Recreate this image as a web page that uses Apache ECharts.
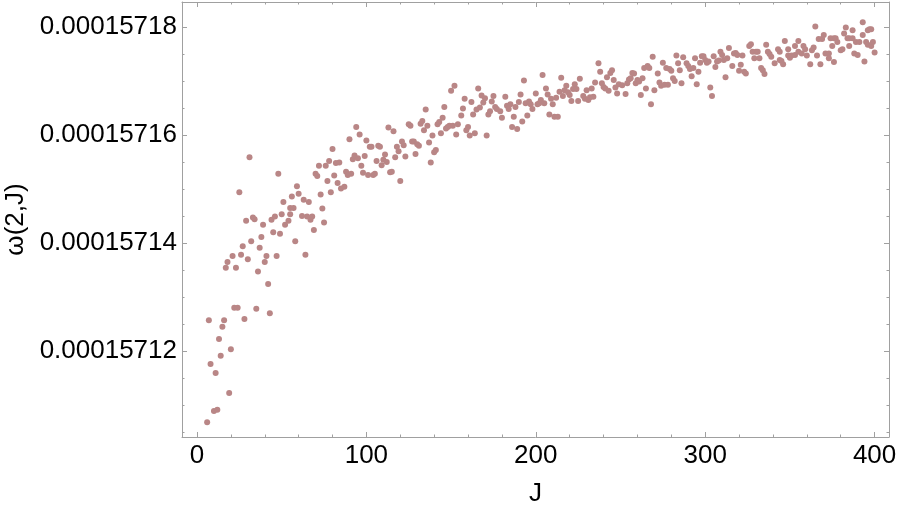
<!DOCTYPE html>
<html>
<head>
<meta charset="utf-8">
<script src="https://cdn.jsdelivr.net/npm/echarts@6/dist/echarts.min.js"></script>
<style>
  html, body { margin: 0; padding: 0; background: #fff; }
  #chart { width: 899px; height: 509px; }
</style>
</head>
<body>
<div id="chart"></div>
<script>
// J values (x) and omega(2,J).
// omegaOffset is in units of 1e-10 above 0.000157
const jValues = [
  6, 7, 8, 10, 11, 12, 13, 14, 15, 16, 17, 18, 19, 20, 21, 22, 23, 24, 25, 26, 27, 28, 29, 30, 31, 32, 33, 34, 35, 36,
  37, 38, 39, 40, 41, 42, 43, 44, 45, 46, 47, 48, 49, 50, 51, 52, 54, 55, 55, 56, 57, 58, 59, 60, 62,
  63, 64, 65, 66, 67, 68, 69, 70, 71, 72, 73, 74, 75, 76, 77, 78, 79, 80, 81, 82, 83, 84, 85, 87, 88, 89, 90, 91, 92,
  93, 94, 95, 96, 97, 98, 99, 100, 101, 102, 103, 104, 105, 106, 107, 108, 109, 110, 111, 112, 113, 114, 115, 116, 117,
  118, 119, 120, 121, 122, 123, 125, 126, 127, 128, 129, 130, 131, 132, 133, 134, 135, 136, 137, 138, 139, 140, 141,
  142, 143, 144, 145, 146, 147, 148, 149, 150, 151, 152, 153, 154, 156, 157, 158, 159, 160, 161, 162, 163, 164, 165,
  166, 167, 168, 169, 170, 171, 172, 173, 174,
  175, 176, 177, 179, 180, 182, 183, 184, 185, 186, 187, 188, 189, 190, 191, 192, 193, 194, 195, 196, 197, 198, 200,
  201, 202, 203, 204, 205, 206, 207, 208, 209, 210, 211, 212, 213, 214, 215, 216, 217, 218, 219, 220, 221, 222, 223,
  224, 225, 226, 228, 229, 230,
  231, 232, 233, 234, 235, 237, 238, 239, 240, 241, 242, 243, 244, 245, 246, 247, 248, 249, 251, 253, 254, 255, 256,
  257, 258, 259, 260, 261, 262, 263, 264, 265, 266, 267, 268, 269, 270, 272, 273, 274, 275, 276, 277, 278, 279, 280,
  281, 282, 283, 284, 285, 286, 287,
  289, 290, 291, 292, 293, 294, 295, 296, 297, 298, 299, 300, 301, 302, 303, 304, 305, 306, 307, 308, 309, 310, 311,
  312, 313, 314, 316, 317, 318, 319, 320, 321, 322, 323, 324, 326, 327, 328, 329, 330, 331, 332, 333, 334, 335, 336,
  337, 338, 339, 341, 343, 344,
  344, 345, 346, 347, 349, 349, 350, 351, 353, 353, 355, 355, 357, 358, 359, 360, 362, 363, 364, 365, 366, 367, 368,
  369, 370, 371, 373, 373, 374, 375, 376, 376, 377, 378, 380, 381, 382, 383, 384, 385, 385, 387, 387, 388, 389, 390,
  391, 393, 393, 394, 395, 396, 396, 397, 398, 398, 399, 400
];
const omegaOffset = [
  1068, 1257, 1176, 1089, 1159, 1091, 1222, 1191, 1245, 1257, 1354, 1365, 1122, 1203, 1376, 1280, 1354, 1280, 1494, 1378,
  1394, 1259, 1441, 1370, 1559, 1403, 1447, 1444, 1278, 1347,
  1391, 1411, 1434, 1365, 1376, 1324, 1270, 1443, 1420, 1449, 1376, 1528, 1417, 1453, 1476, 1434, 1441, 1453, 1465, 1486,
  1465, 1403, 1505, 1491, 1450,
  1480, 1378, 1449, 1476, 1443, 1449, 1424, 1528, 1524, 1543, 1490, 1464, 1438, 1543, 1515, 1552, 1494, 1574, 1525, 1548,
  1511, 1549, 1501, 1504, 1532, 1526, 1592, 1528, 1555,
  1562, 1615, 1557, 1601, 1543, 1530, 1561, 1590, 1526, 1578, 1578, 1526, 1528, 1552, 1580, 1578, 1544, 1554, 1564, 1550,
  1614, 1531, 1532, 1607, 1559,
  1578, 1570, 1515, 1588, 1581, 1560, 1620, 1617, 1588, 1588, 1565, 1583, 1580, 1621, 1626, 1609, 1647, 1617, 1586, 1549,
  1599, 1568, 1572,
  1620, 1624, 1603, 1632, 1652, 1612, 1615, 1617, 1682, 1617, 1691, 1601, 1620, 1636, 1649, 1667, 1609, 1615, 1599, 1661,
  1638, 1603, 1647,
  1686, 1651, 1673, 1660, 1668, 1599, 1638, 1644, 1662,
  1672, 1652, 1648, 1644, 1632, 1671, 1654, 1648, 1657, 1615, 1634, 1652, 1611, 1661, 1675, 1625, 1701, 1659, 1636, 1662,
  1657, 1648, 1677,
  1657, 1659, 1665, 1711, 1659, 1686, 1675, 1638, 1667, 1657, 1634, 1669, 1634, 1680, 1706, 1672, 1683, 1691, 1679, 1674,
  1663, 1685, 1694,
  1685, 1663, 1704, 1672, 1667, 1683,
  1665, 1670, 1686, 1671, 1697, 1733, 1717, 1696, 1689, 1686, 1707, 1682, 1715, 1720, 1702, 1688, 1677, 1694, 1692, 1676,
  1696, 1703, 1705,
  1715, 1714, 1696, 1702, 1699, 1674, 1705, 1724, 1686, 1728, 1724, 1657, 1745, 1683, 1714, 1697, 1691, 1734, 1693, 1724,
  1693, 1722, 1719,
  1705, 1700, 1747, 1733, 1720, 1696, 1744,
  1733, 1728, 1722, 1709, 1724, 1742, 1694, 1717, 1734, 1746, 1746, 1739, 1734, 1736, 1688, 1672, 1746, 1726, 1736, 1738,
  1754, 1748, 1739,
  1707, 1742, 1761, 1728, 1751, 1752, 1748, 1719, 1730, 1747, 1717, 1714, 1765, 1768, 1754, 1742, 1754, 1754, 1742, 1724,
  1720, 1713, 1767,
  1754, 1750, 1745, 1733, 1759, 1739,
  1754, 1737, 1731, 1774, 1747, 1759, 1743, 1747, 1765, 1748, 1754, 1774, 1751, 1765, 1759, 1747, 1731, 1757, 1762, 1801,
  1747, 1778, 1731,
  1778, 1785, 1751, 1751, 1742, 1779, 1765, 1779, 1735, 1779, 1772, 1757, 1759, 1788, 1799, 1779, 1765, 1779, 1794, 1779,
  1751, 1772, 1748,
  1772, 1785, 1809, 1736, 1772, 1794, 1767, 1796, 1765, 1796, 1772, 1753
];
const OMEGA_BASE = 0.000157;

// tick positions
const xMajor = [0, 100, 200, 300, 400];
const xMinor = [20, 40, 60, 80, 120, 140, 160, 180, 220, 240, 260, 280, 320, 340, 360, 380];
const yMajor = [0.00015712, 0.00015714, 0.00015716, 0.00015718];
const yMinor = [0.000157105, 0.00015711, 0.000157115, 0.000157125, 0.00015713, 0.000157135,
  0.000157145, 0.00015715, 0.000157155, 0.000157165, 0.00015717, 0.000157175];

const X_MIN = -8.85, X_MAX = 408.5;
const Y_MIN = 0.00015710407, Y_MAX = 0.00015718463;

const points = jValues.map((j, i) => [j, OMEGA_BASE + omegaOffset[i] * 1e-10]);

const frameColor = "#a0a0a0";
const font = "Liberation Sans, Arial, sans-serif";

function frameAxis(min, max, pos, ticks, len, withLine) {
  return {
    type: "value",
    position: pos,
    min: min,
    max: max,
    axisLine: { show: withLine, onZero: false, lineStyle: { color: frameColor, width: 1 } },
    axisTick: { show: true, inside: true, length: len, customValues: ticks, lineStyle: { color: frameColor, width: 1 } },
    axisLabel: { show: false },
    splitLine: { show: false },
  };
}

const xBottom = frameAxis(X_MIN, X_MAX, "bottom", xMajor, 5, true);
xBottom.axisLabel = {
  show: true, customValues: xMajor, margin: 6,
  fontSize: 26, color: "#000", fontFamily: font,
};
xBottom.name = "J";
xBottom.nameLocation = "middle";
xBottom.nameGap = 44;
xBottom.nameTextStyle = { fontSize: 26, color: "#000", fontFamily: font };

const yLeft = frameAxis(Y_MIN, Y_MAX, "left", yMajor, 5, true);
yLeft.axisLabel = {
  show: true, customValues: yMajor, margin: 5,
  fontSize: 26, color: "#000", fontFamily: font,
  formatter: (v) => v.toFixed(8),
};
yLeft.name = "ω(2,J)";
yLeft.nameLocation = "middle";
yLeft.nameRotate = 90;
yLeft.nameGap = 150;
yLeft.nameTextStyle = { fontSize: 26, color: "#000", fontFamily: font };

const option = {
  animation: false,
  backgroundColor: "#fff",
  grid: { left: 182, right: 10, top: 2, bottom: 72, containLabel: false, outerBoundsMode: "none" },
  xAxis: [
    xBottom,
    frameAxis(X_MIN, X_MAX, "bottom", xMinor, 2.5, false),
    frameAxis(X_MIN, X_MAX, "top", xMajor, 5, true),
    frameAxis(X_MIN, X_MAX, "top", xMinor, 2.5, false),
  ],
  yAxis: [
    yLeft,
    frameAxis(Y_MIN, Y_MAX, "left", yMinor, 2.5, false),
    frameAxis(Y_MIN, Y_MAX, "right", yMajor, 5, true),
    frameAxis(Y_MIN, Y_MAX, "right", yMinor, 2.5, false),
  ],
  series: [
    {
      type: "scatter",
      xAxisIndex: 0,
      yAxisIndex: 0,
      data: points,
      symbol: "circle",
      symbolSize: 6,
      itemStyle: { color: "#b98686", opacity: 1 },
    },
  ],
};

const chart = echarts.init(document.getElementById("chart"), null, { renderer: "canvas" });
chart.setOption(option);
</script>
</body>
</html>
